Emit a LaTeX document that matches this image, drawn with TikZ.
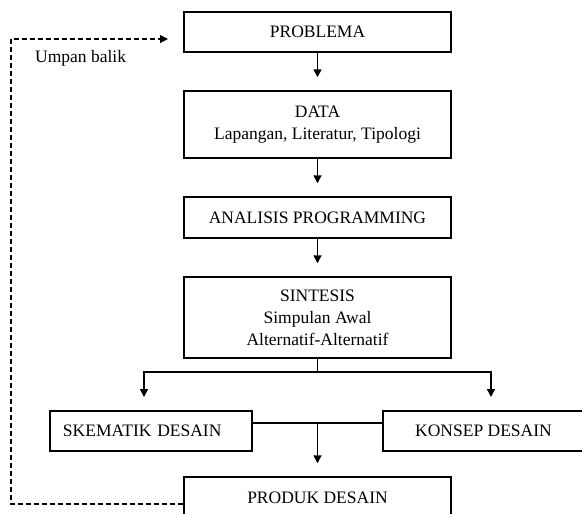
\documentclass[tikz,border=0pt]{standalone}
\usepackage{fontspec}
\setmainfont{Liberation Serif}
\usepackage{tikz}
\usetikzlibrary{arrows.meta}

\begin{document}
\begin{tikzpicture}[x=1pt, y=-1pt, font=\fontsize{17.5}{22}\selectfont,
    box/.style={draw, line width=1.5pt, inner sep=0pt, align=center, minimum width=267pt},
    arr/.style={line width=1.5pt, -{Triangle[width=8pt,length=8pt]}},
    feedback/.style={line width=1.2pt, dash pattern=on 5pt off 3pt, -{Triangle[width=8pt,length=8pt]}}]
            \useasboundingbox (0,0) rectangle (582,514);

            \node[box, minimum height=40pt] (problema) at (317.5, 32) {PROBLEMA};
            \node[box, minimum height=67pt] (data) at (317.5, 124.5) {DATA\\Lapangan, Literatur, Tipologi};
            \node[box, minimum height=41pt] (analisis) at (317.5, 217.5) {ANALISIS PROGRAMMING};
            \node[box, minimum height=81pt] (sintesis) at (317.5, 317.5) {SINTESIS\\Simpulan Awal\\Alternatif-Alternatif};
            \node[box, minimum width=202pt, minimum height=40pt, text width=176pt, align=left] (skematik) at (151, 431) {SKEMATIK DESAIN};
            \node[box, minimum width=201pt, minimum height=40pt] (konsep) at (483.5, 431) {KONSEP DESAIN};
            \node[box, minimum height=42pt] (produk) at (317.5, 498) {PRODUK DESAIN};
            \node[anchor=base west, inner sep=0pt] (umpan) at (35, 62) {Umpan balik};

            \coordinate (split) at (317.5, 372);
            \coordinate (skematikin) at (144, 397);
            \coordinate (konsepin) at (491, 397);
            \coordinate (join) at (317.5, 423);
            \coordinate (fbtop) at (11, 39);
            \coordinate (fbend) at (168, 39);

            \draw[arr] (problema.south) -- ([yshift=13pt]data.north); % problema-data
            \draw[arr] (data.south) -- ([yshift=13pt]analisis.north); % data-analisis
            \draw[arr] (analisis.south) -- ([yshift=13pt]sintesis.north); % analisis-sintesis
            \draw[line width=1.5pt] (sintesis.south) -- (split);
            \draw[arr] (split) -| (skematikin); % sintesis-skematik
            \draw[arr] (split) -| (konsepin); % sintesis-konsep
            \draw[line width=1.5pt] ([yshift=8pt]skematik.east) -- ([yshift=8pt]konsep.west); % skematik-konsep
            \draw[arr] (join) -- ([yshift=13pt]produk.north); % join-produk
            \draw[feedback] ([yshift=-6pt]produk.west) -| (fbtop) -- (fbend); % umpan balik
        \end{tikzpicture}
\end{document}
